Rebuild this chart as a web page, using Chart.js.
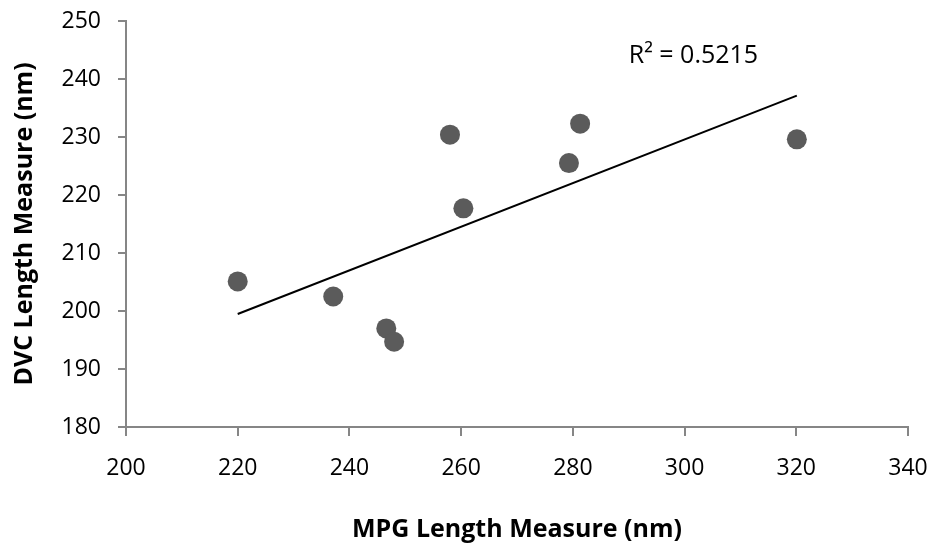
<!DOCTYPE html>
<html>
<head>
<meta charset="utf-8">
<script src="https://cdn.jsdelivr.net/npm/chart.js@4/dist/chart.umd.min.js"></script>
<style>
  body { margin: 0; background: #fff; }
  #wrap { width: 934px; height: 546px; }
</style>
</head>
<body>
<div id="wrap"><canvas id="chart" width="934" height="546"></canvas></div>
<script>
// values
var mpgLength = [220.0, 237.1, 246.6, 248.0, 258.0, 260.4, 279.3, 281.3, 320.1];
var dvcLength = [205.1, 202.5, 197.0, 194.7, 230.4, 217.7, 225.5, 232.3, 229.6];
var xTicks = [200, 220, 240, 260, 280, 300, 320, 340];
var yTicks = [180, 190, 200, 210, 220, 230, 240, 250];
var rSquaredText = "R\u00b2 = 0.5215";

var axisGrey = "#868686";
var font = "'Open Sans', 'Liberation Sans', sans-serif";

function makePoints(xs, ys) {
    var pts = [];
    for (var i = 0; i < xs.length; i++) {
        pts.push({x: xs[i], y: ys[i]});
    }
    return pts;
}

// least squares line over the data range, like the spreadsheet trendline
function trendLine(xs, ys) {
    var n = xs.length, mx = 0, my = 0;
    for (var i = 0; i < n; i++) { mx += xs[i]; my += ys[i]; }
    mx /= n; my /= n;
    var sxy = 0, sxx = 0;
    for (var j = 0; j < n; j++) {
        sxy += (xs[j] - mx) * (ys[j] - my);
        sxx += (xs[j] - mx) * (xs[j] - mx);
    }
    var slope = sxy / sxx;
    var lo = Math.min.apply(null, xs), hi = Math.max.apply(null, xs);
    return [
        {x: lo, y: my + slope * (lo - mx)},
        {x: hi, y: my + slope * (hi - mx)}
    ];
}

var rSquaredLabel = {
    id: "rSquaredLabel",
    afterDatasetsDraw: function(chart) {
        var ctx = chart.ctx;
        var px = chart.scales.x.getPixelForValue(290);
        var py = chart.scales.y.getPixelForValue(244);
        ctx.save();
        ctx.font = "25px " + font;
        ctx.fillStyle = "#000";
        ctx.textAlign = "left";
        ctx.textBaseline = "middle";
        ctx.fillText(rSquaredText, px, py);
        ctx.restore();
    }
};

function tickSetter(list) {
    return function(scale) {
        scale.ticks = list.map(function(v) { return {value: v}; });
    };
}

new Chart(document.getElementById("chart"), {
    type: "scatter",
    data: {
        datasets: [{
            label: "Trend",
            type: "line",
            data: trendLine(mpgLength, dvcLength),
            borderColor: "#000",
            borderWidth: 2,
            pointRadius: 0,
            fill: false,
            order: 2
        }, {
            label: "DVC vs MPG",
            data: makePoints(mpgLength, dvcLength),
            backgroundColor: "#5b5b5b",
            borderWidth: 0,
            pointRadius: 10,
            pointHoverRadius: 10,
            order: 1
        }]
    },
    options: {
        responsive: false,
        animation: false,
        layout: {padding: {top: 21, right: 26, bottom: 0, left: 0}},
        plugins: {
            legend: {display: false},
            tooltip: {enabled: false}
        },
        scales: {
            x: {
                type: "linear",
                min: 200,
                max: 340,
                afterBuildTicks: tickSetter(xTicks),
                afterFit: function(scale) {
                    scale.height = 119;
                    scale.paddingLeft = 0;
                    scale.paddingRight = 0;
                },
                border: {color: axisGrey, width: 2},
                grid: {drawOnChartArea: false, drawTicks: true, tickLength: 9, color: axisGrey, lineWidth: 2},
                ticks: {color: "#000", padding: 19, font: {family: font, size: 23}},
                title: {
                    display: true,
                    text: "MPG Length Measure (nm)",
                    color: "#000",
                    font: {family: font, size: 25, weight: "bold"},
                    padding: {top: 0, bottom: 1}
                }
            },
            y: {
                type: "linear",
                min: 180,
                max: 250,
                afterBuildTicks: tickSetter(yTicks),
                afterFit: function(scale) {
                    scale.width = 126;
                    scale.paddingTop = 0;
                    scale.paddingBottom = 0;
                },
                border: {color: axisGrey, width: 2},
                grid: {drawOnChartArea: false, drawTicks: true, tickLength: 8, color: axisGrey, lineWidth: 2},
                ticks: {color: "#000", padding: 17, font: {family: font, size: 23}},
                title: {
                    display: true,
                    text: "DVC Length Measure (nm)",
                    color: "#000",
                    font: {family: font, size: 25, weight: "bold"},
                    padding: {top: 10, bottom: 0}
                }
            }
        }
    },
    plugins: [rSquaredLabel]
});
</script>
</body>
</html>
